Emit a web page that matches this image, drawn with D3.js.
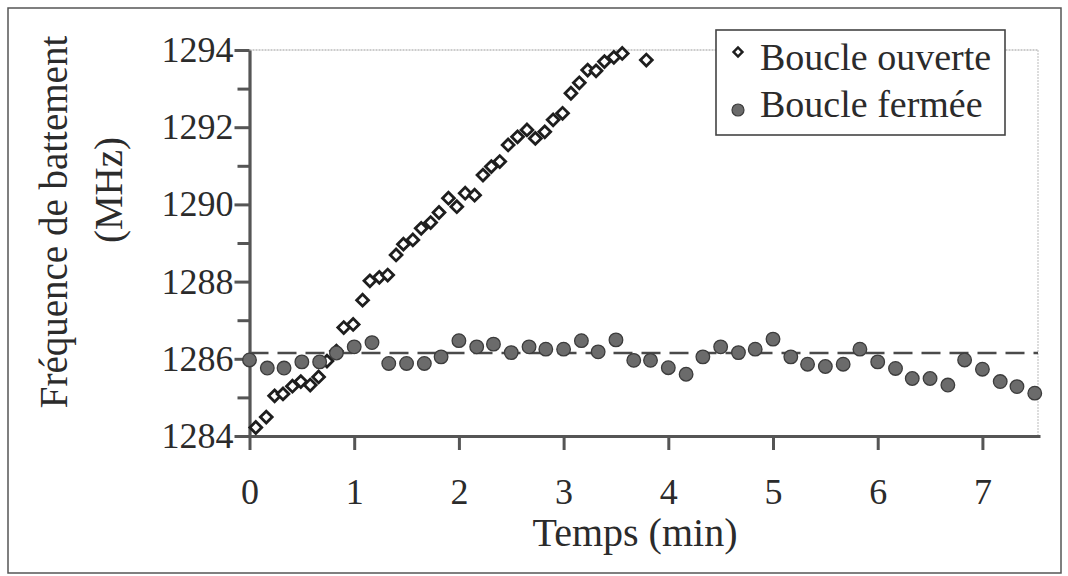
<!DOCTYPE html>
<html><head><meta charset="utf-8">
<script src="https://cdn.jsdelivr.net/npm/d3@7"></script>
<style>body{margin:0;background:#fff}svg{display:block}</style>
</head><body><svg id="c" width="1068" height="576"></svg>
<script>
// Closed loop (Boucle fermée): time (min) and beat frequency (MHz)
const closedTime = [0.00,0.17,0.33,0.50,0.67,0.83,1.00,1.17,1.33,1.50,1.67,1.83,2.00,2.17,2.33,2.50,2.67,2.83,3.00,3.17,3.33,3.50,3.67,3.83,4.00,4.17,4.33,4.50,4.67,4.83,5.00,5.17,5.33,5.50,5.67,5.83,6.00,6.17,6.33,6.50,6.67,6.83,7.00,7.17,7.33,7.50];
const closedFreq = [1285.97,1285.76,1285.76,1285.92,1285.92,1286.15,1286.31,1286.42,1285.88,1285.88,1285.88,1286.05,1286.47,1286.31,1286.38,1286.16,1286.31,1286.25,1286.25,1286.47,1286.18,1286.49,1285.96,1285.96,1285.77,1285.60,1286.05,1286.31,1286.16,1286.25,1286.51,1286.05,1285.86,1285.80,1285.86,1286.25,1285.92,1285.75,1285.49,1285.49,1285.32,1285.97,1285.73,1285.41,1285.28,1285.11];
// Open loop (Boucle ouverte)
const openTime = [0.06,0.16,0.24,0.32,0.41,0.49,0.58,0.66,0.74,0.83,0.90,0.99,1.08,1.15,1.24,1.32,1.40,1.47,1.56,1.64,1.73,1.81,1.90,1.98,2.06,2.15,2.23,2.31,2.39,2.47,2.56,2.65,2.73,2.82,2.90,2.99,3.07,3.15,3.23,3.31,3.39,3.48,3.56,3.79];
const openFreq = [1284.22,1284.49,1285.04,1285.09,1285.29,1285.41,1285.32,1285.53,1285.94,1286.20,1286.81,1286.89,1287.52,1288.02,1288.11,1288.17,1288.69,1288.97,1289.08,1289.38,1289.53,1289.79,1290.16,1289.94,1290.29,1290.24,1290.76,1290.98,1291.11,1291.54,1291.75,1291.93,1291.71,1291.88,1292.19,1292.36,1292.88,1293.15,1293.48,1293.46,1293.70,1293.81,1293.91,1293.74];
const referenceFreq = 1286.15;
const xTicks = [0,1,2,3,4,5,6,7];
const yTicks = [1284,1285,1286,1287,1288,1289,1290,1291,1292,1293,1294];
const yLabelTicks = [1284,1286,1288,1290,1292,1294];
const seriesNames = ["Boucle ouverte","Boucle fermée"];
const xTitle = "Temps (min)";
const yTitle = ["Fréquence de battement","(MHz)"];

const FONT = "'Liberation Serif', Tinos, 'Times New Roman', Times, 'DejaVu Serif', serif";
const TXT = "#2b2b2b";

const svg = d3.select("#c");
svg.append("rect").attr("width",1068).attr("height",576).attr("fill","#fff");
// outer frame
svg.append("rect").attr("x",8).attr("y",8).attr("width",1053).attr("height",565)
  .attr("fill","none").attr("stroke","#555").attr("stroke-width",1.5);

const x = d3.scaleLinear().domain([0,7.55]).range([249.5,1040]);
const y = d3.scaleLinear().domain([1284,1294]).range([436,50]);

// plot area dotted border (top & right)
svg.append("line").attr("x1",x(0)).attr("x2",1038).attr("y1",y(1294)).attr("y2",y(1294))
  .attr("stroke","#999").attr("stroke-width",1).attr("stroke-dasharray","2,1");
svg.append("line").attr("x1",1038).attr("x2",1038).attr("y1",y(1294)).attr("y2",y(1284))
  .attr("stroke","#bbb").attr("stroke-width",1).attr("stroke-dasharray","2,1");

// dashed reference line
svg.append("line").attr("x1",x(0)).attr("x2",1038).attr("y1",y(referenceFreq)).attr("y2",y(referenceFreq))
  .attr("stroke","#4a4a4a").attr("stroke-width",2.6).attr("stroke-dasharray","19,9");

// y axis
const yAxis = svg.append("g").attr("transform",`translate(${x(0)},0)`)
  .call(d3.axisLeft(y).tickValues(yTicks).tickSize(15).tickSizeOuter(0).tickPadding(1)
    .tickFormat(d => yLabelTicks.includes(d) ? d3.format("d")(d) : ""));
yAxis.attr("font-family", null);
yAxis.select(".domain").attr("stroke","#555").attr("stroke-width",3.2);
yAxis.selectAll(".tick line").attr("stroke","#555").attr("stroke-width",3)
  .attr("x2", d => yLabelTicks.includes(d) ? -15 : -12);
yAxis.selectAll(".tick text").attr("font-size",36).attr("fill",TXT).attr("font-family",FONT);

// x axis
const xAxis = svg.append("g").attr("transform",`translate(0,${y(1284)})`)
  .call(d3.axisBottom(x).tickValues(xTicks).tickSize(14).tickSizeOuter(0).tickFormat(d3.format("d")));
xAxis.attr("font-family", null);
xAxis.select(".domain").attr("stroke","#555").attr("stroke-width",3.2);
xAxis.selectAll(".tick line").attr("stroke","#555").attr("stroke-width",3);
xAxis.selectAll(".tick text").attr("font-size",36).attr("y",68).attr("dy",0).attr("fill",TXT).attr("font-family",FONT);

// titles
svg.append("text").attr("x",635).attr("y",546).attr("text-anchor","middle").attr("font-size",40)
  .attr("font-family",FONT).attr("fill",TXT).text(xTitle);
svg.append("text").attr("transform","translate(67,222) rotate(-90)").attr("text-anchor","middle").attr("font-size",39)
  .attr("font-family",FONT).attr("fill",TXT).text(yTitle[0]);
svg.append("text").attr("transform","translate(122,190) rotate(-90)").attr("text-anchor","middle").attr("font-size",39)
  .attr("font-family",FONT).attr("fill",TXT).text(yTitle[1]);

// open loop diamonds
const diamond = d3.symbol().type(d3.symbolSquare).size(70);
svg.append("g").selectAll("path").data(openTime.map((t,i)=>[t,openFreq[i]])).join("path")
  .attr("d",diamond).attr("transform",d=>`translate(${x(d[0])},${y(d[1])}) rotate(45)`)
  .attr("fill","#fff").attr("stroke","#1e1e1e").attr("stroke-width",2.8);

// closed loop circles
svg.append("g").selectAll("circle").data(closedTime.map((t,i)=>[t,closedFreq[i]])).join("circle")
  .attr("cx",d=>x(d[0])).attr("cy",d=>y(d[1])).attr("r",6.8)
  .attr("fill","#6b6b6b").attr("stroke","#3c3c3c").attr("stroke-width",1.3);

// legend
const lg = svg.append("g");
lg.append("rect").attr("x",716).attr("y",30).attr("width",289).attr("height",105)
  .attr("fill","#fff").attr("stroke","#444").attr("stroke-width",1.6);
lg.append("path").attr("d",d3.symbol().type(d3.symbolSquare).size(40)())
  .attr("transform","translate(738,52) rotate(45)").attr("fill","#fff").attr("stroke","#1e1e1e").attr("stroke-width",2.4);
lg.append("circle").attr("cx",738).attr("cy",110).attr("r",6).attr("fill","#6b6b6b").attr("stroke","#3c3c3c").attr("stroke-width",1.2);
lg.append("text").attr("x",760).attr("y",70).attr("font-size",38).attr("font-family",FONT).attr("fill",TXT).text(seriesNames[0]);
lg.append("text").attr("x",760).attr("y",117).attr("font-size",38).attr("font-family",FONT).attr("fill",TXT).text(seriesNames[1]);
</script></body></html>
